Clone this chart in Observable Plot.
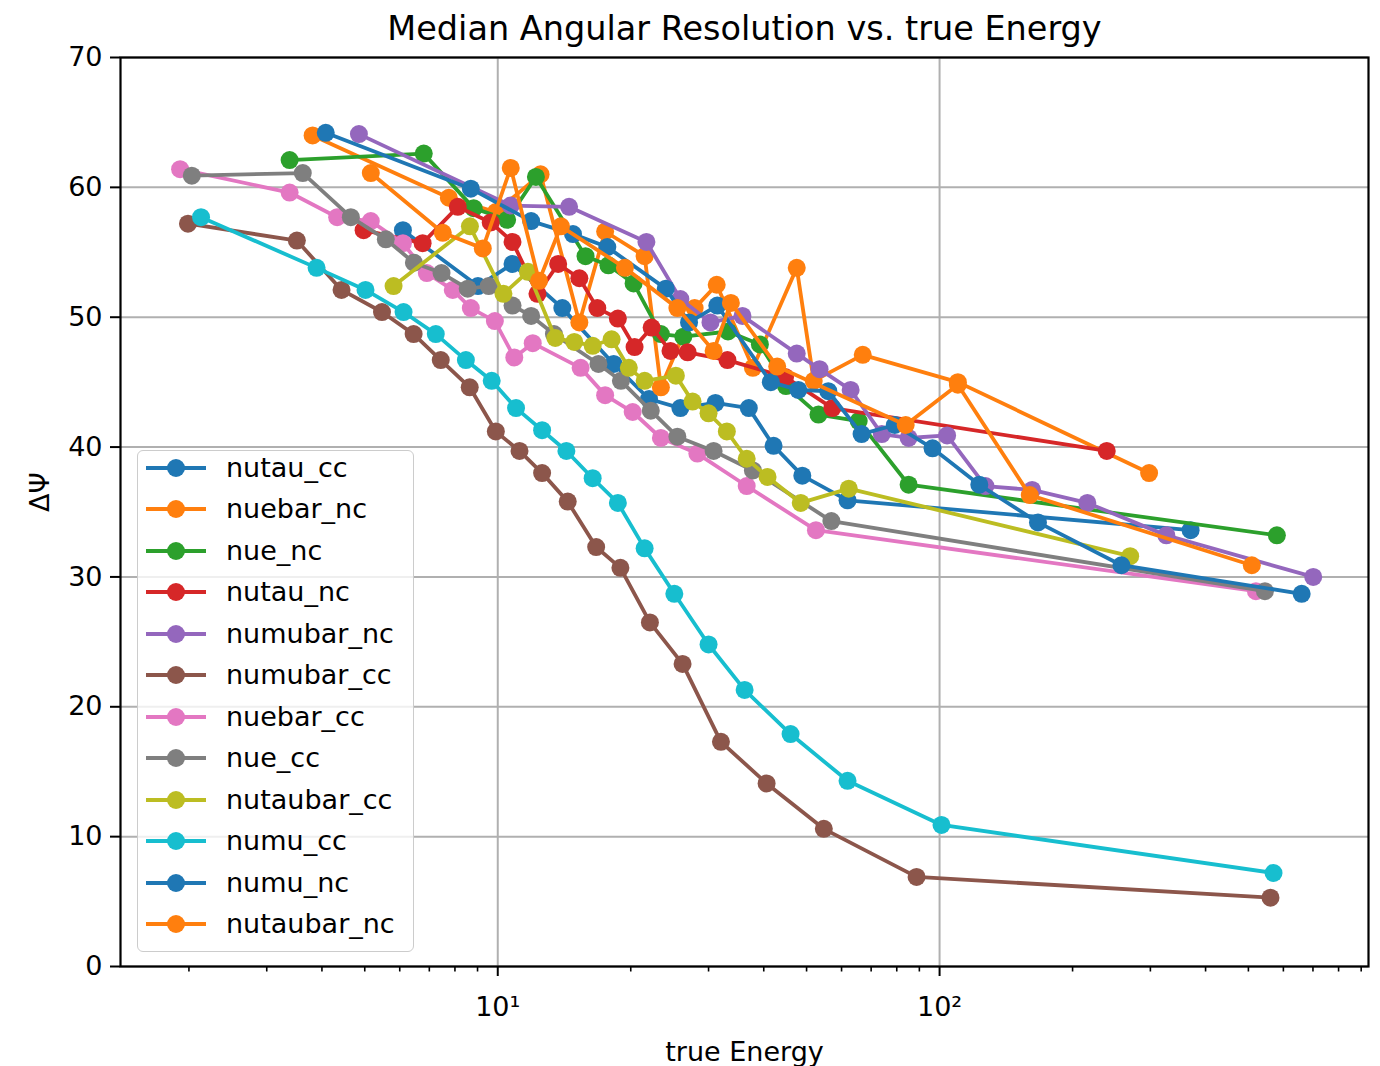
<!DOCTYPE html>
<html><head><meta charset="utf-8">
<script src="https://cdn.jsdelivr.net/npm/d3@7"></script>
<script src="https://cdn.jsdelivr.net/npm/@observablehq/plot@0.6"></script>
<style>
body{margin:0;background:#fff;}
#wrap{position:relative;width:1380px;height:1066px;overflow:hidden;font-family:"DejaVu Sans",sans-serif;}
#legend{position:absolute;left:137px;top:450px;width:277px;height:502px;box-sizing:border-box;background:rgba(255,255,255,0.8);border:1.5px solid #cccccc;border-radius:6px;}
.row{position:absolute;left:0;width:270px;height:42px;}
.row svg{position:absolute;left:6px;top:0;}
.row span{position:absolute;left:88px;top:0;line-height:42px;font-size:27px;color:#000;white-space:nowrap;}
</style></head><body><div id="wrap"></div>
<script>
const title = "Median Angular Resolution vs. true Energy";
const xLabel = "true Energy";
const yLabel = "ΔΨ";
const names = ["nutau_cc","nuebar_nc","nue_nc","nutau_nc","numubar_nc","numubar_cc","nuebar_cc","nue_cc","nutaubar_cc","numu_cc","numu_nc","nutaubar_nc"];
const colors = ["#1f77b4","#ff7f0e","#2ca02c","#d62728","#9467bd","#8c564b","#e377c2","#7f7f7f","#bcbd22","#17becf","#1f77b4","#ff7f0e"];
const yTicks = [0,10,20,30,40,50,60,70];
const xMajor = [10,100];
const xMajorLabels = ["10¹","10²"];
const xMinor = [2,3,4,5,6,7,8,9,20,30,40,50,60,70,80,90,200,300,400,500,600,700,800,900];

const nutau_cc_E   = [6.10, 9.02, 10.8, 14.0, 18.3, 22.0, 25.9, 31.1, 37.0, 42.1, 48.9, 61.9, 370];
const nutau_cc_psi = [56.7, 52.4, 54.1, 50.7, 46.4, 43.7, 43.0, 43.4, 43.0, 40.1, 37.8, 35.9, 33.6];

const nuebar_nc_E   = [3.81, 7.75, 9.90, 12.5, 15.3, 17.5, 21.5, 23.4, 27.9, 31.3, 37.8, 47.5, 51.9, 67.0, 110, 298];
const nuebar_nc_psi = [64.0, 59.2, 58.1, 61.0, 49.6, 56.6, 54.7, 44.6, 50.7, 52.5, 46.1, 53.8, 45.1, 47.1, 45.0, 38.0];

const nue_nc_E   = [3.38, 6.80, 8.82, 10.5, 12.2, 15.8, 17.8, 20.3, 23.4, 26.3, 33.2, 39.2, 44.9, 53.2, 65.6, 85.1, 580];
const nue_nc_psi = [62.1, 62.6, 58.4, 57.5, 60.8, 54.7, 54.0, 52.6, 48.7, 48.5, 48.9, 47.9, 44.7, 42.5, 42.0, 37.1, 33.2];

const nutau_nc_E   = [4.97, 6.76, 8.12, 9.64, 10.8, 12.3, 13.7, 15.3, 16.8, 18.7, 20.4, 22.3, 24.6, 26.9, 33.1, 44.7, 57.2, 239];
const nutau_nc_psi = [56.7, 55.7, 58.5, 57.3, 55.8, 51.8, 54.1, 53.0, 50.7, 49.9, 47.7, 49.2, 47.4, 47.3, 46.7, 45.4, 43.0, 39.7];

const numubar_nc_E   = [4.85, 10.7, 14.5, 21.7, 25.9, 30.3, 35.8, 47.5, 53.5, 62.9, 74.0, 85.1, 104, 127, 162, 216, 326, 701];
const numubar_nc_psi = [64.1, 58.6, 58.5, 55.8, 51.4, 49.6, 50.1, 47.2, 46.0, 44.4, 41.0, 40.7, 40.9, 37.0, 36.7, 35.7, 33.2, 30.0];

const numubar_cc_E   = [1.99, 3.51, 4.43, 5.47, 6.45, 7.43, 8.64, 9.9, 11.2, 12.6, 14.4, 16.7, 18.95, 22.1, 26.2, 32.0, 40.6, 54.7, 88.7, 561];
const numubar_cc_psi = [57.2, 55.9, 52.1, 50.4, 48.7, 46.7, 44.6, 41.2, 39.7, 38.0, 35.8, 32.3, 30.7, 26.5, 23.3, 17.3, 14.1, 10.6, 6.9, 5.3];

const nuebar_cc_E   = [1.91, 3.38, 4.33, 5.16, 6.10, 6.91, 7.91, 8.69, 9.85, 10.9, 12.0, 15.4, 17.5, 20.2, 23.4, 28.3, 36.6, 52.5, 520];
const nuebar_cc_psi = [61.4, 59.6, 57.7, 57.4, 55.7, 53.4, 52.1, 50.7, 49.7, 46.9, 48.0, 46.1, 44.0, 42.7, 40.7, 39.5, 37.0, 33.6, 28.9];

const nue_cc_E   = [2.03, 3.62, 4.65, 5.58, 6.46, 7.46, 8.55, 9.54, 10.8, 11.9, 13.4, 16.9, 19.0, 22.2, 25.5, 30.8, 37.8, 56.9, 545];
const nue_cc_psi = [60.9, 61.1, 57.7, 56.0, 54.2, 53.4, 52.2, 52.4, 50.9, 50.1, 48.7, 46.4, 45.1, 42.8, 40.8, 39.7, 38.2, 34.3, 28.9];

const nutaubar_cc_E   = [5.81, 8.65, 10.3, 11.7, 13.5, 14.9, 16.4, 18.1, 19.8, 21.5, 25.3, 27.6, 30.0, 33.0, 36.6, 40.8, 48.5, 62.3, 270];
const nutaubar_cc_psi = [52.4, 57.0, 51.8, 53.5, 48.4, 48.1, 47.8, 48.3, 46.1, 45.1, 45.5, 43.5, 42.6, 41.2, 39.1, 37.7, 35.7, 36.8, 31.6];

const numu_cc_E   = [2.13, 3.89, 5.02, 6.12, 7.24, 8.47, 9.69, 11.0, 12.6, 14.3, 16.4, 18.7, 21.5, 25.1, 30.0, 36.2, 46.0, 61.9, 101, 570];
const numu_cc_psi = [57.7, 53.8, 52.1, 50.4, 48.7, 46.7, 45.1, 43.0, 41.3, 39.7, 37.6, 35.7, 32.2, 28.7, 24.8, 21.3, 17.9, 14.3, 10.9, 7.2];

const numu_nc_E   = [4.08, 8.69, 11.9, 14.8, 17.7, 24.0, 27.1, 31.4, 41.5, 47.9, 56.0, 66.6, 79.2, 96.4, 123, 167, 258, 660];
const numu_nc_psi = [64.2, 59.9, 57.4, 56.4, 55.4, 52.2, 49.6, 50.9, 45.0, 44.4, 44.3, 41.0, 41.7, 39.9, 37.1, 34.2, 30.9, 28.7];

const nutaubar_nc_E   = [5.16, 7.51, 9.25, 10.7, 12.4, 13.9, 19.4, 25.5, 30.8, 33.7, 42.9, 83.8, 110, 160, 509];
const nutaubar_nc_psi = [61.1, 56.5, 55.3, 61.5, 52.8, 57.0, 53.8, 50.7, 47.4, 51.1, 46.2, 41.7, 44.8, 36.3, 30.9];

const seriesE = [nutau_cc_E, nuebar_nc_E, nue_nc_E, nutau_nc_E, numubar_nc_E, numubar_cc_E, nuebar_cc_E, nue_cc_E, nutaubar_cc_E, numu_cc_E, numu_nc_E, nutaubar_nc_E];
const seriesPsi = [nutau_cc_psi, nuebar_nc_psi, nue_nc_psi, nutau_nc_psi, numubar_nc_psi, numubar_cc_psi, nuebar_cc_psi, nue_cc_psi, nutaubar_cc_psi, numu_cc_psi, numu_nc_psi, nutaubar_nc_psi];

const marks = [
  Plot.gridX(xMajor, {stroke: "#b0b0b0", strokeOpacity: 1, strokeWidth: 2}),
  Plot.gridY(yTicks, {stroke: "#b0b0b0", strokeOpacity: 1, strokeWidth: 2})
];
names.forEach((n, i) => {
  const rows = seriesE[i].map((e, j) => ({E: e, psi: seriesPsi[i][j]}));
  marks.push(Plot.line(rows, {x: "E", y: "psi", stroke: colors[i], strokeWidth: 3.8}));
  marks.push(Plot.dot(rows, {x: "E", y: "psi", fill: colors[i], r: 9}));
});
marks.push(Plot.frame({stroke: "#000", strokeWidth: 2.2}));
marks.push(Plot.axisY(yTicks, {tickSize: 10, tickPadding: 8, fontSize: 27, label: null, strokeWidth: 2}));
marks.push(Plot.axisX(xMajor, {tickSize: 10, tickPadding: 20, fontSize: 27, label: null, strokeWidth: 2,
  tickFormat: d => xMajorLabels[xMajor.indexOf(d)]}));
marks.push(Plot.axisX(xMinor, {tickSize: 5.5, label: null, strokeWidth: 1.6, tickFormat: () => ""}));
marks.push(Plot.text([title], {frameAnchor: "top", lineAnchor: "middle", dy: -28, fontSize: 33.5, text: d => d}));
marks.push(Plot.text([xLabel], {frameAnchor: "bottom", lineAnchor: "middle", dy: 86, fontSize: 27, text: d => d}));
marks.push(Plot.text([yLabel], {frameAnchor: "left", dx: -80, rotate: -90, fontSize: 27, text: d => d}));

const chart = Plot.plot({
  width: 1380, height: 1066,
  marginLeft: 120, marginRight: 12, marginTop: 57, marginBottom: 100,
  x: {type: "log", domain: [1.40, 935]},
  y: {domain: [0, 70]},
  style: {fontFamily: "DejaVu Sans", fontSize: "27px", color: "#000", background: "#fff", overflow: "visible"},
  marks
});
const wrap = document.getElementById("wrap");
wrap.appendChild(chart);

const legend = document.createElement("div");
legend.id = "legend";
names.forEach((n, i) => {
  const row = document.createElement("div");
  row.className = "row";
  row.style.top = (17 - 21 + i * 41.45) + "px";
  row.innerHTML = `<svg width="66" height="42"><line x1="2" x2="62" y1="21" y2="21" stroke="${colors[i]}" stroke-width="3.8"/><circle cx="32" cy="21" r="9" fill="${colors[i]}"/></svg><span>${n}</span>`;
  legend.appendChild(row);
});
wrap.appendChild(legend);
</script>
</body></html>
